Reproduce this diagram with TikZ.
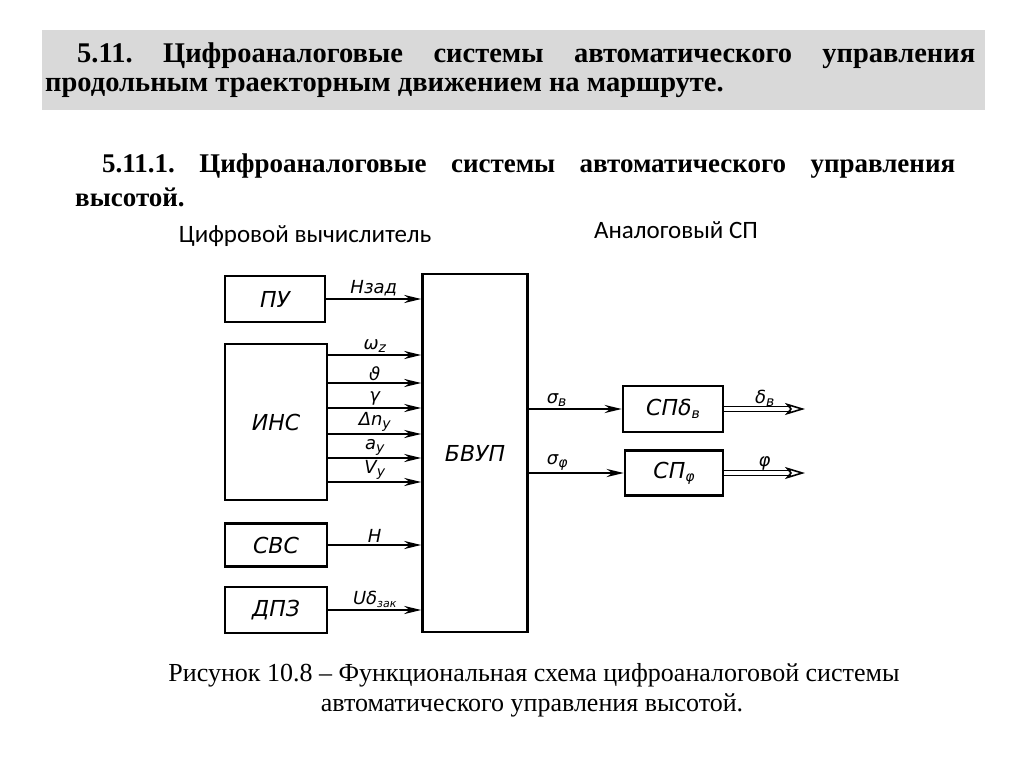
\documentclass[tikz,border=0pt]{standalone}
\usepackage{fontspec}
\setmainfont{Liberation Serif}
\newfontfamily\calfont{Carlito}
\newfontfamily\schfont{DejaVu Sans}
\usepackage{xcolor}
\usetikzlibrary{arrows.meta}
\definecolor{bandgray}{RGB}{217,217,217}
\newcommand\lowsub[1]{\raisebox{-3pt}{\fontsize{14}{14}\selectfont #1}}
\frenchspacing

\begin{document}
\begin{tikzpicture}[
    x=1pt, y=-1pt,
    block/.style={draw, line width=2.5pt, inner sep=0pt, font=\schfont\itshape\fontsize{22}{22}\selectfont},
    sig/.style={line width=2.5pt, -{Stealth[length=17pt,width=8pt]}},
    dblarrow/.style={double, line width=1.6pt, double distance=3.5pt, -{Stealth[open,length=20pt,width=12pt,inset=5pt,line width=1.6pt]}},
    lab/.style={font=\schfont\itshape\fontsize{18}{18}\selectfont, inner sep=1.5pt},
    head/.style={anchor=base west, inner sep=0pt, font=\bfseries\fontsize{28.5}{28.5}\selectfont},
    subhead/.style={head, font=\bfseries\fontsize{27}{27}\selectfont},
    note/.style={anchor=base, inner sep=0pt, font=\calfont\fontsize{25}{25}\selectfont}
]
\useasboundingbox (0,0) rectangle (1024,767);

% heading
\fill[bandgray] (42,30) rectangle (985,110);
\node (head1) [head] at (77,63) {\makebox[898pt][s]{5.11. Цифроаналоговые системы автоматического управления}};
\node (head2) [head] at (45,92) {продольным траекторным движением на маршруте.};
\node (sub1) [subhead] at (102,173) {\makebox[853pt][s]{5.11.1. Цифроаналоговые системы автоматического управления}};
\node (sub2) [subhead] at (75,207) {высотой.};

\node (digital) [note] at (305,243) {Цифровой вычислитель};
\node (analog) [note] at (676,238) {Аналоговый СП};

% blocks
\node (pu) [block, minimum width=100pt, minimum height=46pt] at (275,299) {ПУ};
\node (ins) [block, minimum width=102pt, minimum height=156pt] at (276,422) {ИНС};
\node (svs) [block, minimum width=102pt, minimum height=43pt] at (276,545) {СВС};
\node (dpz) [block, minimum width=102pt, minimum height=46pt] at (276,610) {ДПЗ};
\node (bvup) [block, minimum width=105pt, minimum height=358pt] at (475,453) {БВУП};
\node (spb) [block, minimum width=100pt, minimum height=46pt] at (673,409) {СПδ\lowsub{в}};
\node (spf) [block, minimum width=98pt, minimum height=45pt] at (674,473) {СП\lowsub{φ}};

% inputs
\draw[sig] (pu) -- node[lab, above] {Hзад} (bvup.west |- pu);
\foreach \yy/\lab in {355/{ω\lowsub{z}}, 383/ϑ, 408/γ, 434/{Δn\lowsub{y}}, 458/{a\lowsub{y}}, 482/{V\lowsub{y}}}
  \draw[sig] (ins.east |- 0,\yy) -- node[lab, above] {\lab} (bvup.west |- 0,\yy);
\draw[sig] (svs) -- node[lab, above] {H} (bvup.west |- svs);
\draw[sig] (dpz) -- node[lab, above] {Uδ\raisebox{-3pt}{\fontsize{11}{11}\selectfont зак}} (bvup.west |- dpz);

% outputs
\coordinate (endb) at (805,409);
\coordinate (endf) at (805,473);
\draw[sig] (bvup.east |- spb) -- node[lab, above, pos=0.3] {σ\lowsub{в}} (spb);
\draw[sig] (bvup.east |- spf) -- node[lab, above, pos=0.3] {σ\lowsub{φ}} (spf);
\draw[dblarrow] (spb) -- node[lab, above] {δ\lowsub{в}} (endb);
\draw[dblarrow] (spf) -- node[lab, above] {φ} (endf);

% caption
\node (cap1) [anchor=base, inner sep=0pt, font=\fontsize{26}{26}\selectfont] at (534,681) {Рисунок 10.8 – Функциональная схема цифроаналоговой системы};
\node (cap2) [anchor=base, inner sep=0pt, font=\fontsize{26}{26}\selectfont] at (532,711) {автоматического управления высотой.};
\end{tikzpicture}
\end{document}
